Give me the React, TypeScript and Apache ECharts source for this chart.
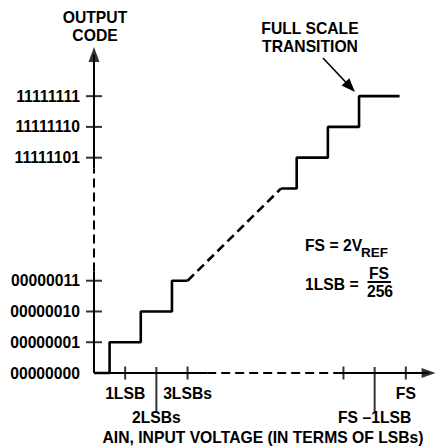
import React, { useEffect, useRef } from 'react';
import * as echarts from 'echarts';

// 8-bit output codes marked on the vertical axis
const codeTicks = [0, 1, 2, 3, 253, 254, 255];
// Input voltages (in LSBs, FS = 256 LSBs) marked on the horizontal axis
const inputTicks = [1, 2, 3, 254, 255, 256];
const inputTickLabels = ['1LSB', '2LSBs', '3LSBs', '', 'FS –1LSB', 'FS'];
const inputTickLong = [false, true, false, false, true, false];
// Transfer staircase: output codes and the input (LSBs) where each next code starts
const lowCodes = [0, 1, 2, 3];
const lowTransitions = [0.5, 1.5, 2.5];
const lowStart = 0;
const lowEnd = 3;
const highCodes = [252, 253, 254, 255];
const highTransitions = [252.5, 253.5, 254.5];
const highStart = 252;
const highEnd = 255.8;

// The middle of both axes is collapsed (broken axis)
const GAP = 246;
const toAxis = (v: number) => (v > 128 ? v - GAP : v);

function stair(codes: number[], trans: number[], start: number, end: number) {
  const pts: number[][] = [[start, codes[0]]];
  trans.forEach((t, i) => {
    pts.push([t, codes[i]], [t, codes[i + 1]]);
  });
  pts.push([end, codes[codes.length - 1]]);
  return pts.map(([x, y]) => [toAxis(x), toAxis(y)]);
}

const FONT = 'Liberation Sans, Arial, Helvetica, sans-serif';
const FS_MAIN = 15.7;

export default function App() {
  const ref = useRef<HTMLDivElement>(null);
  useEffect(() => {
    if (!ref.current) return;
    const chart = echarts.init(ref.current, null, { renderer: 'svg' });

    const xLabelMap: Record<number, string> = {};
    inputTicks.forEach((v, i) => {
      xLabelMap[toAxis(v)] = (inputTickLong[i] ? '\n' : '') + inputTickLabels[i];
    });
    const yLabelMap: Record<number, string> = {};
    codeTicks.forEach((c) => {
      yLabelMap[toAxis(c)] = c.toString(2).padStart(8, '0');
    });

    // axis drawing (display units), styling only
    const xBreak = [3.63, 7.83];
    const yBreak = [3.3, 6.65];
    const xArrow = 10.73;
    const yArrow = 10.35;

    const seg = (data: number[][], dashed: boolean, width: number) => ({
      type: 'line',
      data,
      showSymbol: false,
      symbol: 'none',
      clip: false,
      silent: true,
      z: 3,
      lineStyle: { color: '#000', width, type: dashed ? [9, 5] : 'solid', cap: 'butt' },
    });

    const tickSeries = (data: number[][], size: number[], offset: number[] = [0, 0]) => ({
      type: 'scatter',
      data,
      symbol: 'rect',
      symbolSize: size,
      symbolOffset: offset,
      clip: false,
      silent: true,
      itemStyle: { color: '#000' },
      z: 4,
    });

    const txt = (
      text: string,
      x: number,
      y: number,
      align: string,
      size: number = FS_MAIN,
      lineHeight?: number
    ) => ({
      type: 'text',
      x,
      y,
      style: {
        text,
        fill: '#000',
        font: `bold ${size}px ${FONT}`,
        lineHeight,
        align,
        verticalAlign: 'middle',
        textAlign: align,
        textVerticalAlign: 'middle',
      },
    });

    const option: any = {
      animation: false,
      backgroundColor: '#fff',
      grid: { left: 94, width: 345.4, bottom: 73, height: 323 },
      xAxis: {
        type: 'value',
        min: 0,
        max: 11,
        interval: 1,
        axisLine: { show: false },
        axisTick: { show: false },
        splitLine: { show: false },
        axisLabel: {
          margin: 8,
          lineHeight: 24,
          fontSize: FS_MAIN,
          fontWeight: 'bold',
          fontFamily: FONT,
          color: '#000',
          formatter: (v: number) => xLabelMap[v] ?? '',
        },
      },
      yAxis: {
        type: 'value',
        min: 0,
        max: 10.5,
        interval: 1,
        axisLine: { show: false },
        axisTick: { show: false },
        splitLine: { show: false },
        axisLabel: {
          margin: 14,
          fontSize: FS_MAIN,
          fontWeight: 'bold',
          fontFamily: FONT,
          color: '#000',
          formatter: (v: number) => yLabelMap[v] ?? '',
        },
      },
      series: [
        // axes
        seg([[0, 0], [xBreak[0], 0]], false, 2),
        seg([[xBreak[0], 0], [xBreak[1], 0]], true, 2),
        seg([[xBreak[1], 0], [xArrow, 0]], false, 2),
        seg([[0, 0], [0, yBreak[0]]], false, 2),
        seg([[0, yBreak[0]], [0, yBreak[1]]], true, 2),
        seg([[0, yBreak[1]], [0, yArrow]], false, 2),
        // staircase
        seg(stair(lowCodes, lowTransitions, lowStart, lowEnd), false, 2.6),
        seg(
          [
            [toAxis(lowEnd), toAxis(lowCodes[lowCodes.length - 1])],
            [toAxis(highStart), toAxis(highCodes[0])],
          ],
          true,
          2.6
        ),
        seg(stair(highCodes, highTransitions, highStart, highEnd), false, 2.6),
        // ticks
        tickSeries(
          codeTicks.filter((c) => c !== 0).map((c) => [0, toAxis(c)]),
          [16, 2]
        ),
        tickSeries(
          inputTicks.filter((_, i) => !inputTickLong[i]).map((v) => [toAxis(v), 0]),
          [2, 13]
        ),
        tickSeries(
          inputTicks.filter((_, i) => inputTickLong[i]).map((v) => [toAxis(v), 0]),
          [2, 46],
          [0, 17]
        ),
        // arrowheads
        {
          type: 'scatter',
          data: [[0, yArrow]],
          symbol: 'triangle',
          symbolSize: [11, 15],
          clip: false,
          silent: true,
          itemStyle: { color: '#000' },
          z: 5,
        },
        {
          type: 'scatter',
          data: [[xArrow, 0]],
          symbol: 'triangle',
          symbolSize: [10, 14],
          symbolRotate: -90,
          clip: false,
          silent: true,
          itemStyle: { color: '#000' },
          z: 5,
        },
      ],
      graphic: [
        txt('OUTPUT\nCODE', 95, 26.5, 'center', FS_MAIN, 18),
        txt('FULL SCALE\nTRANSITION', 310, 37.3, 'center', FS_MAIN, 17.5),
        {
          type: 'line',
          shape: { x1: 323, y1: 58, x2: 347, y2: 83.5 },
          style: { stroke: '#000', lineWidth: 1.6 },
        },
        {
          type: 'polygon',
          shape: { points: [[355, 92], [341.5, 85.5], [349.3, 78.2]] },
          style: { fill: '#000' },
        },
        txt('FS = 2V', 305, 245, 'left'),
        txt('REF', 361, 252, 'left', 13.5),
        txt('1LSB =', 305, 284, 'left'),
        txt('FS', 379, 273, 'center'),
        {
          type: 'line',
          shape: { x1: 367.5, y1: 282, x2: 391, y2: 282 },
          style: { stroke: '#000', lineWidth: 2 },
        },
        txt('256', 380, 291.5, 'center'),
        txt('AIN, INPUT VOLTAGE (IN TERMS OF LSBs)', 263, 437, 'center'),
      ],
    };
    chart.setOption(option);
    return () => chart.dispose();
  }, []);
  return (
    <div
      ref={ref}
      style={{ position: 'fixed', left: 0, top: 0, width: 440, height: 446, background: '#fff' }}
    />
  );
}
